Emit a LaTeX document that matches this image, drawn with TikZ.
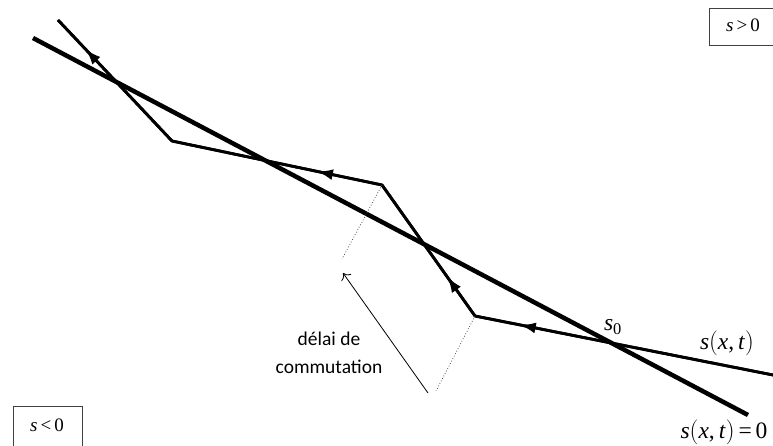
\documentclass[tikz,border=0pt]{standalone}
\usepackage{fontspec}
\setmainfont{Liberation Serif}
\newfontfamily\calib{Carlito}
\usetikzlibrary{arrows.meta,decorations.markings}
\tikzset{
  thickline/.style={line width=4.5pt,black},
  traj/.style={line width=2.8pt,black,line join=miter},
  midarrow/.style={postaction={decorate},decoration={markings,mark=at position #1 with {\arrow{Latex[length=16pt,width=11pt]}}}},
  delay/.style={line width=0.8pt,dotted,black!70},
  lbl/.style={inner sep=0pt,font=\fontsize{23.5}{26}\selectfont},
  boxlbl/.style={draw=black!75,line width=0.8pt,font=\fontsize{19}{22}\selectfont},
}
\begin{document}
\begin{tikzpicture}[x=1pt,y=-1pt]
\useasboundingbox (0,0) rectangle (773,446);
% switching line
\coordinate (L1) at (33,38);
\coordinate (L2) at (748,415);
\draw[thickline] (L1) -- (L2);
% trajectory points
\coordinate (P0) at (773,375);
\coordinate (P1) at (475,316);
\coordinate (P2) at (382,185);
\coordinate (P3) at (172,141);
\coordinate (P4) at (58,20);
\draw[traj] (P0) -- (P1) -- (P2) -- (P3) -- (P4);
\draw[traj,midarrow=0.85] (P0) -- (P1);
\draw[traj,midarrow=0.30] (P1) -- (P2);
\draw[traj,midarrow=0.31] (P2) -- (P3);
\draw[traj,midarrow=0.76] (P3) -- (P4);
% delay marks
\coordinate (D1) at (342,259);
\coordinate (D2) at (436,391);
\draw[delay] (P2) -- (D1);
\draw[delay] (P1) -- (D2);
\coordinate (A1) at (428,393);
\coordinate (A2) at (343,273);
\draw[line width=0.8pt,-{To[length=6pt,width=12pt]}] (A1) -- (A2);
\node[font=\calib\fontsize{19.5}{27.5}\selectfont,align=center] (txt) at (329,353) {délai de\\commutation};
% labels
\node[lbl] (s0) at (613,327) {\textit{s}$_{\mathrm{0}}$};
\node[lbl] (sxt) at (727,343) {\textit{s}\big(\textit{x},\,\textit{t}\big)};
\node[lbl] (sxt0) at (724,432) {\textit{s}\big(\textit{x},\,\textit{t}\big)\,=\,0};
% region boxes
\node[boxlbl,minimum width=64pt,minimum height=37pt,anchor=north west] (pos) at (709,8) {};
\node[font=\fontsize{19}{22}\selectfont] (post) at (743,25) {\textit{s}\,>\,0};
\node[boxlbl,minimum width=69pt,minimum height=60pt,anchor=north west] (neg) at (13,406) {};
\node[font=\fontsize{19}{22}\selectfont] (negt) at (47,425) {\textit{s}\,<\,0};
\end{tikzpicture}
\end{document}
